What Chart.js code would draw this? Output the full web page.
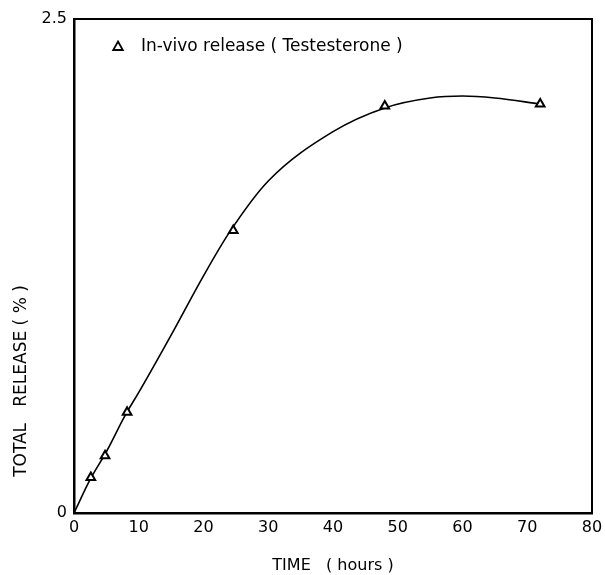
<!DOCTYPE html>
<html><head><meta charset="utf-8">
<script src="https://cdn.jsdelivr.net/npm/chart.js@4"></script>
<style>html,body{margin:0;padding:0;background:#fff}#wrap{width:605px;height:575px}</style>
</head><body><div id="wrap"><canvas id="c" width="605" height="575"></canvas></div>
<script>
const timeHours = [2.6, 4.8, 8.2, 24.6, 48, 72];
const releasePct = [0.18, 0.29, 0.51, 1.43, 2.06, 2.07];
const curveTime = [0, 2.5, 5, 8, 10, 15, 20, 24, 30, 40, 48, 55, 60, 65, 72];
const curveRelease = [0, 0.17, 0.31, 0.5, 0.61, 0.9, 1.2, 1.42, 1.68, 1.93, 2.05, 2.1, 2.11, 2.1, 2.07];
const xTicks = [0, 10, 20, 30, 40, 50, 60, 70, 80];
const yTicks = [0, 2.5];
const legendLabel = 'In-vivo release ( Testesterone )';
const xTitle = 'TIME   ( hours )';
const yTitle = 'TOTAL   RELEASE ( % )';

const FONT = "'DejaVu Sans', 'Liberation Sans', sans-serif";

const framePlugin = {
  id: 'frame',
  afterDatasetsDraw(chart) {
    const {ctx, chartArea: a} = chart;
    ctx.save();
    ctx.strokeStyle = '#000';
    ctx.lineWidth = 2;
    ctx.strokeRect(a.left, a.top, a.right - a.left, a.bottom - a.top);
    // legend (inside plot, upper-left)
    const ds = chart.data.datasets[0];
    const lx = a.left + 44, ly = a.top + 28;
    ctx.fillStyle = '#fff'; ctx.strokeStyle = '#000'; ctx.lineWidth = 1.8;
    ctx.beginPath();
    ctx.moveTo(lx, ly - 5.5); ctx.lineTo(lx + 4.8, ly + 3); ctx.lineTo(lx - 4.8, ly + 3); ctx.closePath();
    ctx.fill(); ctx.stroke();
    ctx.fillStyle = '#000';
    ctx.font = '17px ' + FONT;
    ctx.textBaseline = 'middle';
    ctx.textAlign = 'left';
    ctx.fillText(ds.label, lx + 23, ly);
    // y-axis title
    ctx.translate(22, 381);
    ctx.rotate(-Math.PI / 2);
    ctx.textAlign = 'center';
    ctx.fillText(yTitle, 0, 0);
    ctx.restore();
  }
};

new Chart(document.getElementById('c'), {
  type: 'scatter',
  data: {
    datasets: [
      {
        label: legendLabel,
        data: timeHours.map((x, i) => ({x, y: releasePct[i]})),
        pointStyle: 'triangle',
        pointRadius: 5,
        pointBackgroundColor: '#fff',
        pointBorderColor: '#000',
        pointBorderWidth: 2,
        showLine: false,
        order: 0
      },
      {
        label: 'fit',
        data: curveTime.map((x, i) => ({x, y: curveRelease[i]})),
        showLine: true,
        borderColor: '#000',
        borderWidth: 1.6,
        pointRadius: 0,
        cubicInterpolationMode: 'monotone',
        order: 1
      }
    ]
  },
  options: {
    responsive: false,
    animation: false,
    devicePixelRatio: 1,
    layout: {padding: {left: 0, right: 13, top: 19, bottom: 0}},
    plugins: {
      legend: {display: false},
      tooltip: {enabled: false}
    },
    scales: {
      x: {
        type: 'linear',
        min: 0, max: 80,
        afterBuildTicks: (s) => { s.ticks = xTicks.map(v => ({value: v})); },
        afterFit: (s) => { s.height = 62; },
        grid: {display: false, drawTicks: true, tickLength: 4, color: '#000'},
        border: {display: true, color: '#000', width: 2.5},
        ticks: {color: '#000', font: {family: FONT, size: 16}, padding: 1, maxRotation: 0},
        title: {display: true, text: xTitle, color: '#000', font: {family: FONT, size: 16}, padding: {top: 12, bottom: 0}}
      },
      y: {
        type: 'linear',
        min: 0, max: 2.5,
        afterBuildTicks: (s) => { s.ticks = yTicks.map(v => ({value: v})); },
        afterFit: (s) => { s.width = 74; },
        grid: {display: false, tickLength: 6, color: '#000'},
        border: {display: true, color: '#000', width: 2.5},
        ticks: {color: '#000', font: {family: FONT, size: 16}, padding: 1},
        title: {display: false}
      }
    }
  },
  plugins: [framePlugin]
});
</script></body></html>
